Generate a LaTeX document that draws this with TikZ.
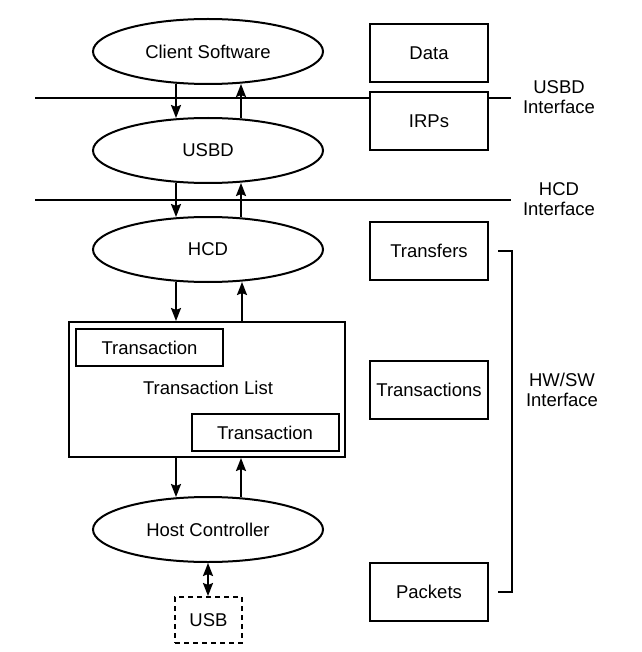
\documentclass[tikz,border=0pt]{standalone}
\usepackage{fontspec}
\setmainfont{Liberation Sans}
\usetikzlibrary{shapes.geometric,arrows.meta,calc}
\begin{document}
\begin{tikzpicture}[x=1pt,y=-1pt,
  every node/.style={font=\fontsize{18.5}{22}\selectfont},
  ell/.style={draw,line width=2pt,ellipse,minimum width=230pt,minimum height=65pt,inner sep=0pt},
  box/.style={draw,line width=2pt,rectangle,inner sep=0pt},
  rbox/.style={box,minimum width=118pt,minimum height=58pt},
  tbox/.style={box,minimum width=147pt,minimum height=37pt},
  ln/.style={line width=2pt},
  arr/.style={line width=2pt,-{Stealth[length=13pt,width=10pt,inset=2pt]}},
  darr/.style={line width=2pt,{Stealth[length=13pt,width=10pt,inset=2pt]}-{Stealth[length=13pt,width=10pt,inset=2pt]}},
  lbl/.style={align=center,font=\fontsize{18.5}{20}\selectfont}
]
\useasboundingbox (0,0) rectangle (641,652);
% ellipses
\node[ell] (cs) at (208,51.5) {Client Software};
\node[ell] (usbd) at (208,150.5) {USBD};
\node[ell] (hcd) at (208,249.5) {HCD};
\node[ell] (hc) at (208,529.5) {Host Controller};
% transaction list
\node[box,minimum width=276pt,minimum height=135pt] (tl) at (207,389.5) {};
\node at (208,388) {Transaction List};
\node[tbox] (t1) at (149.5,347.5) {Transaction};
\node[tbox] (t2) at (265,432.5) {Transaction};
% usb
\node[box,dashed,dash pattern=on 5pt off 4pt,minimum width=67pt,minimum height=46pt] (usb) at (208.5,620) {USB};
% right boxes
\node[rbox] (data) at (429,53) {Data};
\node[rbox] (irps) at (429,121.5) {IRPs};
\node[rbox] (xfer) at (429,251) {Transfers};
\node[rbox] (xact) at (429,390) {Transactions};
\node[rbox] (pkt) at (429,592) {Packets};
% interface lines
\coordinate (u1) at (35,98);
\coordinate (u2) at (511,98);
\coordinate (h1) at (35,200);
\coordinate (h2) at (511,200);
\draw[ln] (u1) -- (u1 -| irps.west);
\draw[ln] (u2 -| irps.east) -- (u2);
\draw[ln] (h1) -- (h2);
\node[lbl] (ul) at (559,97) {USBD\\Interface};
\node[lbl] (hl) at (559,199) {HCD\\Interface};
% bracket
\coordinate (b1) at (512,251);
\coordinate (b2) at (512,592);
\draw[ln] ([xshift=9pt]xfer.east) -- (b1) -- (b2) -- ([xshift=9pt]pkt.east);
\node[lbl] (hw) at (562,390) {HW/SW\\Interface};
% arrows
\draw[arr] ([xshift=-32pt,yshift=1pt]cs.south) -- ([xshift=-32pt,yshift=-1pt]usbd.north);
\draw[arr] ([xshift=33pt,yshift=-1pt]usbd.north) -- ([xshift=33pt,yshift=1pt]cs.south);
\draw[arr] ([xshift=-32pt,yshift=1pt]usbd.south) -- ([xshift=-32pt,yshift=-1pt]hcd.north);
\draw[arr] ([xshift=33pt,yshift=-1pt]hcd.north) -- ([xshift=33pt,yshift=1pt]usbd.south);
\draw[arr] ([xshift=-32pt,yshift=1pt]hcd.south) -- (tl.north -| 176,0);
\draw[arr] (tl.north -| 242,0) -- ([xshift=34pt,yshift=1pt]hcd.south);
\draw[arr] (tl.south -| 176,0) -- ([xshift=-32pt,yshift=-1pt]hc.north);
\draw[arr] ([xshift=33pt,yshift=-1pt]hc.north) -- (tl.south -| 241,0);
\draw[darr] (hc.south) -- (usb.north -| hc.south);
\end{tikzpicture}
\end{document}
